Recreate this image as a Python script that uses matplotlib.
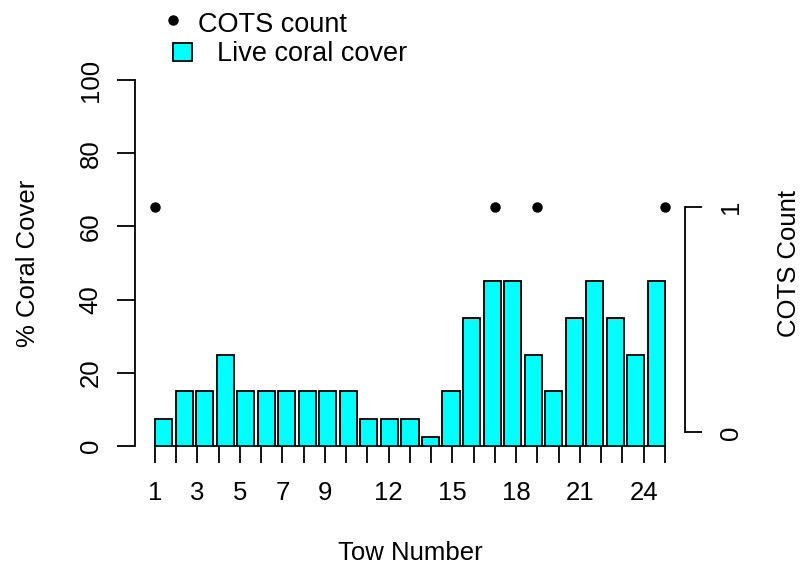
import matplotlib
matplotlib.use('Agg')
import matplotlib.pyplot as plt
from matplotlib.lines import Line2D
from matplotlib.patches import Rectangle

plt.rcParams['font.family'] = ['Liberation Sans', 'DejaVu Sans']

# one row per manta tow
tows = list(range(1, 26))
coral_cover = [7.5, 15, 15, 25, 15, 15, 15, 15, 15, 15,
               7.5, 7.5, 7.5, 2.5, 15, 35, 45, 45, 25, 15,
               35, 45, 35, 25, 45]
cots_count = [1, 0, 0, 0, 0, 0, 0, 0, 0, 0,
              0, 0, 0, 0, 0, 0, 1, 0, 1, 0,
              0, 0, 0, 0, 1]
tow_labels = [1, 3, 5, 7, 9, 12, 15, 18, 21, 24]

FS = 18.5
LW = 1.3

fig = plt.figure(figsize=(8.02, 5.67), dpi=100)
pos = [0.1678, 0.2134, 0.6868, 0.6455]

# bars laid out like R's barplot: width 1, gap 0.2
ax = fig.add_axes(pos)
n = len(coral_cover)
xb = [0.7 + 1.2 * i for i in range(n)]
ax.bar(xb, coral_cover, width=1.0, color='cyan', edgecolor='black', linewidth=LW)
span = xb[-1] + 0.5 - (xb[0] - 0.5)
ax.set_xlim(xb[0] - 0.5 - 0.04 * span, xb[-1] + 0.5 + 0.04 * span)
ax.set_ylim(0, 100)
for s in ['top', 'right', 'bottom']:
    ax.spines[s].set_visible(False)
ax.spines['left'].set_bounds(0, 100)
ax.spines['left'].set_linewidth(LW)
ax.set_xticks([])
ax.set_yticks([0, 20, 40, 60, 80, 100])
ax.tick_params(axis='y', length=13, width=LW, labelsize=FS, pad=10)
for t in ax.get_yticklabels():
    t.set_rotation(90)
    t.set_va('center')
ax.set_ylabel('% Coral Cover', fontsize=FS, va='center')
ax.yaxis.set_label_coords(-0.193, 0.5)

# COTS counts on their own scale over the same region
ax2 = fig.add_axes(pos)
ax2.patch.set_visible(False)
for s in ['top', 'left']:
    ax2.spines[s].set_visible(False)
xs = [t for t, c in zip(tows, cots_count) if c > 0]
ys = [c for c in cots_count if c > 0]
ax2.plot(xs, ys, 'o', color='black', markersize=6.5, linestyle='none')
ax2.set_xlim(1 - 0.04 * 24, 25 + 0.04 * 24)
ax2.set_ylim(0 - 0.04 * 1.5, 1.5 + 0.04 * 1.5)
ax2.spines['bottom'].set_bounds(1, 25)
ax2.spines['bottom'].set_linewidth(LW)
ax2.spines['right'].set_bounds(0, 1)
ax2.spines['right'].set_linewidth(LW)
ax2.set_xticks(tows)
ax2.set_xticklabels([str(t) if t in tow_labels else '' for t in tows])
ax2.tick_params(axis='x', length=12, width=LW, labelsize=FS, pad=13)
ax2.yaxis.set_label_position('right')
ax2.yaxis.tick_right()
ax2.set_yticks([0, 1])
ax2.tick_params(axis='y', length=12, width=LW, labelsize=FS, pad=12)
for t in ax2.get_yticklabels():
    t.set_rotation(90)
    t.set_va('center')
ax2.set_xlabel('Tow Number', fontsize=FS)
ax2.xaxis.set_label_coords(0.5, -0.292)
ax2.xaxis.label.set_va('center')
ax2.set_ylabel('COTS Count', fontsize=FS, va='center', rotation=90)
ax2.yaxis.set_label_coords(1.188, 0.5)

# legend in the top margin
fig.add_artist(Line2D([173 / 802], [1 - 20 / 567], marker='o', color='black',
                      markersize=6.5, transform=fig.transFigure))
fig.text(198 / 802, 1 - 32 / 567, 'COTS count', fontsize=19.5, va='baseline')
fig.add_artist(Rectangle((173 / 802, 1 - 61 / 567), 19 / 802, 18 / 567,
                         facecolor='cyan', edgecolor='black', linewidth=LW,
                         transform=fig.transFigure))
fig.text(217 / 802, 1 - 61 / 567, 'Live coral cover', fontsize=19.5, va='baseline')

fig.savefig('out.png', dpi=100)
